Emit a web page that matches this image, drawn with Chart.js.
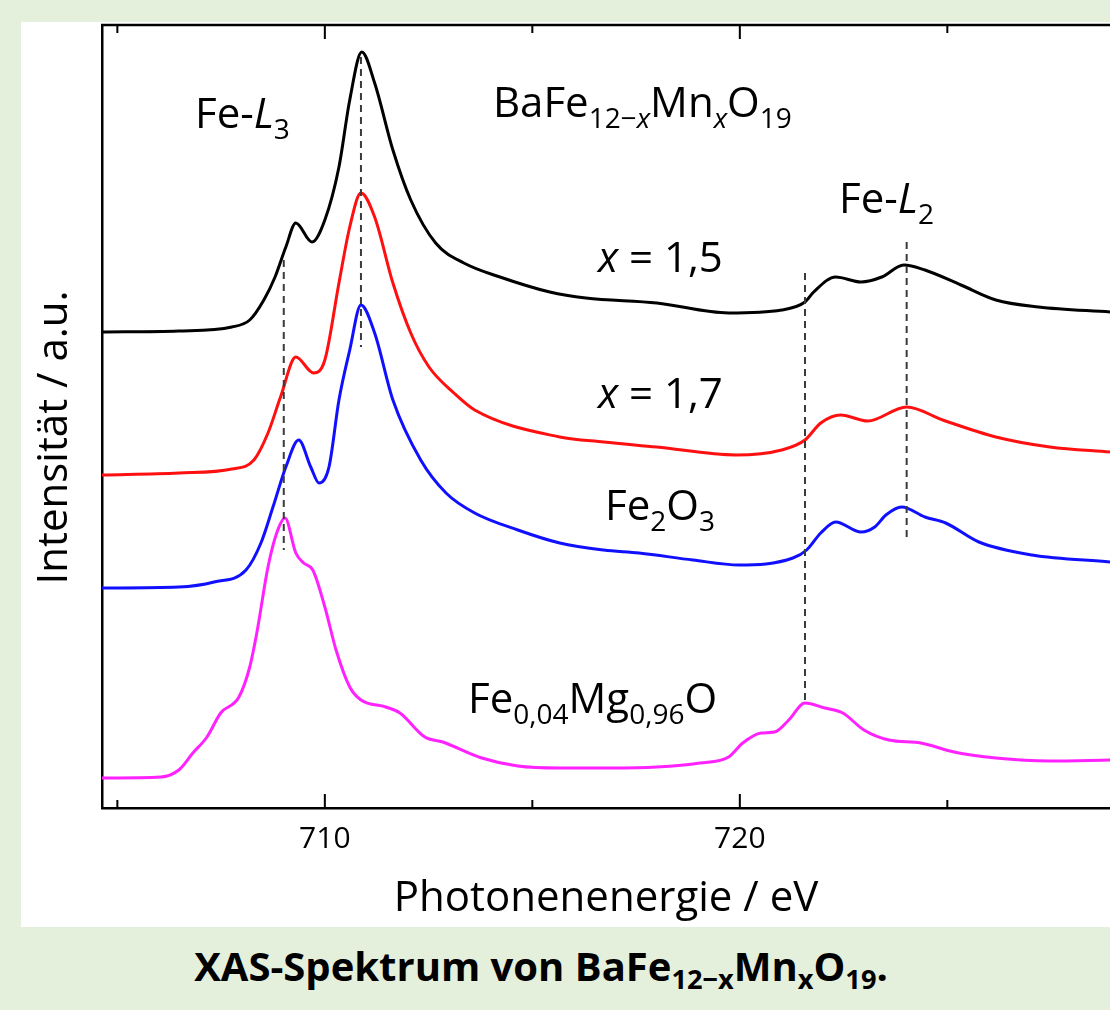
<!DOCTYPE html>
<html>
<head>
<meta charset="utf-8">
<script src="https://cdn.jsdelivr.net/npm/chart.js@4/dist/chart.umd.min.js"></script>
<style>
  body { margin: 0; background: #e4efdc; width: 1110px; height: 1010px; overflow: hidden; font-family: 'Open Sans'; }
  #panel { position: absolute; left: 21px; top: 22px; width: 1089px; height: 905px; background: #fff; }
  #title { position: absolute; left: 0; top: 946px; width: 1082px; text-align: center; font-weight: bold; font-size: 40px; line-height: 40px; }
  #title sub { font-size: 0.68em; vertical-align: -0.3em; line-height: 0; }
</style>
</head>
<body>
<div id="panel"><canvas id="myChart" width="1089" height="905"></canvas></div>
<div id="title">XAS-Spektrum von BaFe<sub>12−x</sub>Mn<sub>x</sub>O<sub>19</sub>.</div>
<script>
'use strict';

// x = 1,5 (black)
const blackE = [704.63, 706.48, 707.76, 708.19, 708.53, 708.80, 709.06, 709.30, 709.69, 710.00, 710.34, 710.60, 710.89, 711.20, 711.64, 712.07, 712.67, 713.35, 714.22, 715.42, 716.29, 718.00, 719.73, 721.01, 721.57, 721.78, 722.31, 722.92, 723.42, 723.95, 724.46, 725.33, 726.17, 727.20, 728.92];
const blackI = [4.76, 4.77, 4.81, 4.88, 5.08, 5.31, 5.61, 5.85, 5.66, 5.88, 6.41, 7.08, 7.56, 7.25, 6.58, 6.08, 5.65, 5.45, 5.31, 5.16, 5.10, 5.05, 4.95, 4.98, 5.06, 5.16, 5.31, 5.26, 5.31, 5.43, 5.38, 5.23, 5.08, 5.01, 4.96];

// x = 1,7 (red)
const redE = [704.63, 706.48, 707.76, 708.29, 708.63, 708.94, 709.30, 709.73, 710.00, 710.34, 710.60, 710.87, 711.20, 711.64, 712.07, 712.51, 713.11, 713.61, 715.66, 716.72, 718.00, 719.90, 721.01, 721.57, 721.95, 722.43, 723.08, 724.02, 724.89, 726.17, 727.47, 728.92];
const redI = [3.33, 3.35, 3.39, 3.48, 3.75, 4.12, 4.51, 4.35, 4.48, 5.25, 5.81, 6.15, 5.91, 5.25, 4.75, 4.41, 4.15, 3.98, 3.71, 3.66, 3.61, 3.53, 3.58, 3.68, 3.85, 3.93, 3.87, 4.01, 3.88, 3.71, 3.61, 3.56];

// Fe2O3 (blue)
const blueE = [704.63, 706.48, 707.33, 708.10, 708.46, 708.75, 709.06, 709.37, 709.66, 709.86, 710.10, 710.34, 710.60, 710.87, 711.20, 711.64, 712.31, 712.92, 713.61, 714.65, 715.66, 716.72, 717.57, 718.87, 719.98, 721.28, 721.61, 721.95, 722.31, 722.92, 723.25, 723.52, 723.90, 724.46, 724.96, 725.76, 727.04, 728.92];
const blueI = [2.20, 2.21, 2.26, 2.38, 2.65, 3.01, 3.41, 3.68, 3.41, 3.25, 3.41, 4.08, 4.58, 5.03, 4.75, 4.08, 3.48, 3.15, 2.95, 2.78, 2.65, 2.58, 2.55, 2.48, 2.43, 2.50, 2.58, 2.75, 2.86, 2.76, 2.81, 2.93, 3.01, 2.91, 2.85, 2.66, 2.53, 2.46];

// Fe0,04Mg0,96O (magenta)
const pinkE = [704.63, 706.05, 706.48, 706.82, 707.16, 707.49, 707.93, 708.19, 708.36, 708.63, 708.84, 709.04, 709.30, 709.49, 709.71, 710.00, 710.27, 710.60, 710.87, 711.47, 711.81, 712.41, 712.84, 713.78, 714.65, 715.66, 716.89, 718.00, 719.04, 719.73, 720.07, 720.51, 720.84, 721.18, 721.57, 722.05, 722.48, 722.99, 723.59, 724.36, 725.16, 726.17, 727.47, 728.92];
const pinkI = [0.30, 0.31, 0.38, 0.55, 0.71, 0.95, 1.11, 1.41, 1.75, 2.41, 2.75, 2.90, 2.55, 2.45, 2.38, 2.01, 1.58, 1.21, 1.08, 1.01, 0.95, 0.71, 0.66, 0.50, 0.42, 0.40, 0.40, 0.41, 0.45, 0.51, 0.65, 0.75, 0.76, 0.88, 1.05, 1.00, 0.95, 0.78, 0.68, 0.65, 0.56, 0.50, 0.47, 0.48];

// dashed peak markers
const markE = [709.01, 710.87, 721.57, 724.02];
const markTop = [5.48, 7.51, 5.35, 5.66];
const markBottom = [2.58, 4.61, 1.05, 2.70];

// x ticks, only 710 and 720 get a label
const tickVals = [705, 710, 715, 720, 725];
const tickLabels = ['', '710', '', '720', ''];

// text in the plot: pieces are [text, style] with style '', 'i', 'sub', 'isub'
const noteParts = [
  [['Fe-', ''], ['L', 'i'], ['3', 'sub']],
  [['BaFe', ''], ['12−', 'sub'], ['x', 'isub'], ['Mn', ''], ['x', 'isub'], ['O', ''], ['19', 'sub']],
  [['Fe-', ''], ['L', 'i'], ['2', 'sub']],
  [['x', 'i'], [' = 1,5', '']],
  [['x', 'i'], [' = 1,7', '']],
  [['Fe', ''], ['2', 'sub'], ['O', ''], ['3', 'sub']],
  [['Fe', ''], ['0,04', 'sub'], ['Mg', ''], ['0,96', 'sub'], ['O', '']]
];
const noteE = [706.87, 714.05, 722.39, 716.58, 716.58, 716.75, 713.45];
const noteI = [6.80, 6.91, 5.95, 5.36, 4.00, 2.88, 0.95];

function pts(xs, ys) {
  return xs.map((x, i) => ({ x: x, y: ys[i] }));
}

let datasets = [];
for (let i = 0; i < markE.length; i++) {
  datasets.push({
    data: [{ x: markE[i], y: markTop[i] }, { x: markE[i], y: markBottom[i] }],
    borderColor: '#3a3a3a',
    borderWidth: 2,
    borderDash: [7, 5]
  });
}
datasets.push({ data: pts(blackE, blackI), borderColor: '#000', borderWidth: 3, tension: 0.4, cubicInterpolationMode: 'monotone' });
datasets.push({ data: pts(redE, redI), borderColor: '#ff1010', borderWidth: 3, tension: 0.4, cubicInterpolationMode: 'monotone' });
datasets.push({ data: pts(blueE, blueI), borderColor: '#1010ff', borderWidth: 3, tension: 0.4, cubicInterpolationMode: 'monotone' });
datasets.push({ data: pts(pinkE, pinkI), borderColor: '#ff22ff', borderWidth: 3, tension: 0.4, cubicInterpolationMode: 'monotone' });

// inward ticks top + bottom, top frame line, y title
const framePlugin = {
  id: 'frame',
  afterDraw(chart) {
    const ctx = chart.ctx;
    const area = chart.chartArea;
    const x = chart.scales.x;
    ctx.save();
    ctx.strokeStyle = '#000';
    ctx.lineWidth = 2.5;
    ctx.beginPath();
    ctx.moveTo(area.left - 1, area.top);
    ctx.lineTo(area.right, area.top);
    ctx.stroke();
    ctx.lineWidth = 2;
    for (let i = 0; i < tickVals.length; i++) {
      const px = x.getPixelForValue(tickVals[i]);
      const len = tickLabels[i] ? 14 : 8;
      ctx.beginPath();
      ctx.moveTo(px, area.bottom);
      ctx.lineTo(px, area.bottom - len);
      ctx.moveTo(px, area.top);
      ctx.lineTo(px, area.top + len);
      ctx.stroke();
    }
    // y axis title
    ctx.fillStyle = '#000';
    ctx.font = '42px "Open Sans"';
    ctx.textAlign = 'center';
    ctx.textBaseline = 'middle';
    ctx.translate(34, (area.top + area.bottom) / 2 + 21);
    ctx.rotate(-Math.PI / 2);
    ctx.fillText('Intensität / a.u.', 0, 0);
    ctx.restore();
  }
};

const notePlugin = {
  id: 'notes',
  afterDatasetsDraw(chart) {
    const ctx = chart.ctx;
    ctx.save();
    ctx.fillStyle = '#000';
    ctx.textBaseline = 'alphabetic';
    ctx.textAlign = 'left';
    for (let n = 0; n < noteParts.length; n++) {
      let px = chart.scales.x.getPixelForValue(noteE[n]);
      const py = chart.scales.y.getPixelForValue(noteI[n]);
      for (const [txt, st] of noteParts[n]) {
        const sub = st.includes('sub');
        const ital = st.startsWith('i');
        ctx.font = (ital ? 'italic ' : '') + (sub ? '28px' : '42px') + ' "Open Sans"';
        ctx.fillText(txt, px, py + (sub ? 11 : 0));
        px += ctx.measureText(txt).width;
      }
    }
    ctx.restore();
  }
};

Chart.defaults.font.family = 'Open Sans';
Chart.defaults.color = '#000';

const myChart = new Chart(document.getElementById('myChart'), {
  type: 'line',
  data: { datasets: datasets },
  options: {
    responsive: false,
    animation: false,
    layout: { padding: { top: 3, right: 0, left: 0, bottom: 0 } },
    elements: { point: { radius: 0 } },
    plugins: { legend: { display: false }, tooltip: { enabled: false } },
    scales: {
      x: {
        type: 'linear',
        min: 704.63,
        max: 728.92,
        grid: { display: false },
        border: { display: true, color: '#000', width: 2.5 },
        afterBuildTicks: (s) => { s.ticks = tickVals.map(v => ({ value: v })); },
        afterFit: (s) => { s.height = 119; },
        ticks: {
          font: { size: 30 },
          padding: 5,
          maxRotation: 0,
          autoSkip: false,
          callback: (v) => tickLabels[tickVals.indexOf(v)] || ''
        },
        title: { display: true, text: 'Photonenenergie / eV', font: { size: 42 }, padding: { top: 0, bottom: 3 } }
      },
      y: {
        min: 0,
        max: 7.83,
        grid: { display: false },
        border: { display: true, color: '#000', width: 2.5 },
        ticks: { display: false },
        afterFit: (s) => { s.width = 81; }
      }
    }
  },
  plugins: [framePlugin, notePlugin]
});
</script>
</body>
</html>
